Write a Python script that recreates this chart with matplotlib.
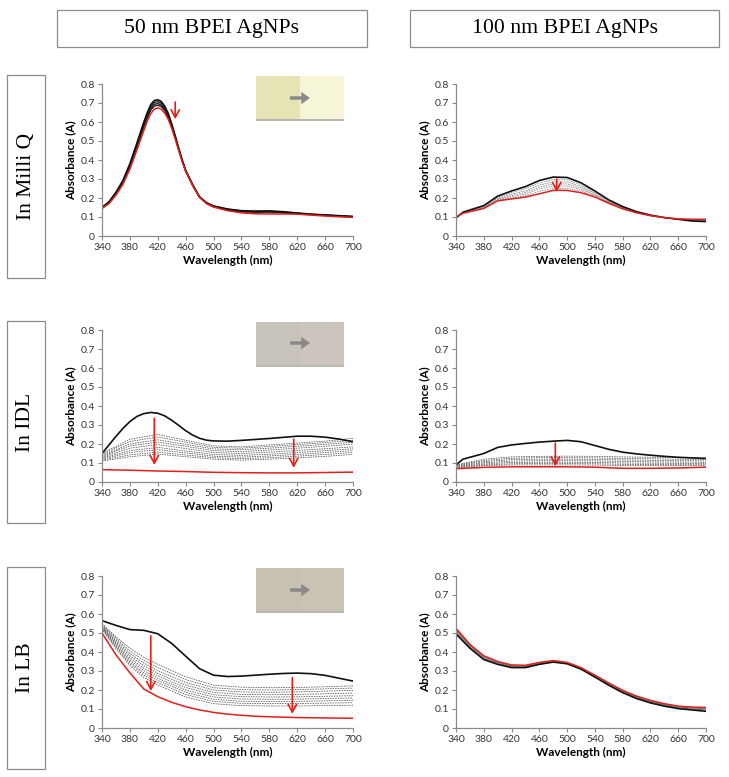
import matplotlib
matplotlib.use('Agg')
import matplotlib.pyplot as plt
from matplotlib.patches import Rectangle, FancyArrow
from matplotlib.ticker import FixedLocator, FixedFormatter

# ---------------- data ----------------
COL_TITLES = ["50 nm BPEI AgNPs", "100 nm BPEI AgNPs"]
ROW_TITLES = ["In Milli Q", "In IDL", "In LB"]
X_TICKS = [340, 380, 420, 460, 500, 540, 580, 620, 660, 700]
Y_TICKS = [0, 0.1, 0.2, 0.3, 0.4, 0.5, 0.6, 0.7, 0.8]
Y_TICK_LABELS = ["0", "0.1", "0.2", "0.3", "0.4", "0.5", "0.6", "0.7", "0.8"]
X_LABEL = "Wavelength (nm)"
Y_LABEL = "Absorbance (A)"

WL20 = [340, 360, 380, 400, 420, 440, 460, 480, 500, 520, 540, 560, 580, 600, 620, 640, 660, 680, 700]
WL40 = [340, 380, 420, 460, 500, 540, 580, 620, 660, 700]

# Panel A: 50 nm, Milli Q
WL_A = [340, 350, 360, 370, 380, 390, 400, 405, 410, 415, 420, 425, 430, 435, 440, 445, 450, 455, 460,
        470, 480, 490, 500, 520, 540, 560, 580, 600, 620, 640, 660, 680, 700]
A_TOP = [0.150, 0.180, 0.230, 0.292, 0.380, 0.488, 0.600, 0.650, 0.692, 0.713, 0.717, 0.708, 0.683, 0.645, 0.590, 0.527, 0.462, 0.400, 0.345,
         0.270, 0.205, 0.175, 0.158, 0.142, 0.133, 0.131, 0.132, 0.128, 0.121, 0.115, 0.111, 0.107, 0.103]
A_MID1 = [0.149, 0.178, 0.227, 0.288, 0.375, 0.481, 0.591, 0.640, 0.682, 0.703, 0.707, 0.698, 0.675, 0.638, 0.585, 0.523, 0.459, 0.398, 0.344,
          0.269, 0.205, 0.174, 0.157, 0.141, 0.131, 0.129, 0.130, 0.126, 0.120, 0.114, 0.110, 0.106, 0.102]
A_MID2 = [0.148, 0.176, 0.224, 0.284, 0.370, 0.474, 0.582, 0.630, 0.672, 0.693, 0.697, 0.689, 0.667, 0.631, 0.580, 0.519, 0.456, 0.396, 0.343,
          0.268, 0.204, 0.173, 0.156, 0.139, 0.129, 0.127, 0.128, 0.124, 0.119, 0.113, 0.109, 0.105, 0.101]
A_MID3 = [0.147, 0.174, 0.221, 0.280, 0.365, 0.468, 0.574, 0.621, 0.663, 0.684, 0.688, 0.681, 0.660, 0.625, 0.576, 0.516, 0.454, 0.395, 0.342,
          0.267, 0.204, 0.172, 0.155, 0.137, 0.127, 0.125, 0.126, 0.122, 0.118, 0.112, 0.108, 0.104, 0.100]
A_RED = [0.145, 0.170, 0.215, 0.272, 0.352, 0.452, 0.556, 0.605, 0.645, 0.668, 0.674, 0.667, 0.647, 0.614, 0.567, 0.510, 0.450, 0.392, 0.340,
         0.265, 0.203, 0.170, 0.152, 0.133, 0.122, 0.117, 0.116, 0.116, 0.115, 0.110, 0.105, 0.101, 0.098]

# Panel B: 100 nm, Milli Q
WL_B = [340, 350, 360, 380, 400, 420, 440, 460, 480, 500, 520, 540, 560, 580, 600, 620, 640, 660, 680, 700]
B_TOP = [0.095, 0.125, 0.137, 0.160, 0.210, 0.237, 0.260, 0.292, 0.310, 0.308, 0.280, 0.237, 0.190, 0.155, 0.128, 0.110, 0.097, 0.088, 0.079, 0.076]
B_MID1 = [0.096, 0.123, 0.135, 0.157, 0.204, 0.228, 0.249, 0.279, 0.297, 0.296, 0.270, 0.230, 0.186, 0.152, 0.126, 0.109, 0.096, 0.087, 0.080, 0.078]
B_MID2 = [0.097, 0.122, 0.133, 0.154, 0.200, 0.220, 0.238, 0.268, 0.285, 0.285, 0.261, 0.224, 0.182, 0.150, 0.125, 0.108, 0.096, 0.087, 0.081, 0.080]
B_MID3 = [0.098, 0.121, 0.132, 0.151, 0.196, 0.213, 0.229, 0.258, 0.274, 0.274, 0.253, 0.218, 0.179, 0.148, 0.124, 0.108, 0.096, 0.088, 0.083, 0.082]
B_MID4 = [0.099, 0.120, 0.130, 0.149, 0.192, 0.206, 0.220, 0.248, 0.263, 0.263, 0.245, 0.213, 0.176, 0.146, 0.123, 0.107, 0.096, 0.088, 0.085, 0.084]
B_MID5 = [0.100, 0.120, 0.129, 0.147, 0.188, 0.200, 0.212, 0.235, 0.251, 0.251, 0.236, 0.209, 0.174, 0.144, 0.122, 0.107, 0.097, 0.089, 0.086, 0.086]
B_RED = [0.100, 0.120, 0.128, 0.145, 0.185, 0.195, 0.205, 0.222, 0.240, 0.240, 0.228, 0.205, 0.172, 0.143, 0.122, 0.107, 0.097, 0.090, 0.088, 0.088]

# Panel C: 50 nm, IDL
WL_C = [340, 350, 360, 370, 380, 390, 400, 410, 420, 430, 440, 450, 460, 470, 480, 490, 500,
        520, 540, 560, 580, 600, 620, 640, 660, 680, 700]
C_TOP = [0.150, 0.195, 0.240, 0.282, 0.318, 0.345, 0.360, 0.366, 0.362, 0.348, 0.325, 0.298, 0.270, 0.247, 0.230, 0.220, 0.216,
         0.215, 0.219, 0.224, 0.229, 0.235, 0.241, 0.241, 0.236, 0.226, 0.212]
C_MID1 = [0.150, 0.225, 0.250, 0.220, 0.190, 0.185, 0.195, 0.205, 0.215, 0.230]
C_MID2 = [0.145, 0.213, 0.237, 0.210, 0.182, 0.178, 0.187, 0.197, 0.207, 0.220]
C_MID3 = [0.140, 0.200, 0.222, 0.198, 0.174, 0.170, 0.178, 0.188, 0.198, 0.210]
C_MID4 = [0.135, 0.190, 0.210, 0.188, 0.165, 0.160, 0.168, 0.178, 0.188, 0.200]
C_MID5 = [0.130, 0.178, 0.197, 0.176, 0.155, 0.150, 0.157, 0.166, 0.175, 0.185]
C_MID6 = [0.125, 0.165, 0.182, 0.163, 0.145, 0.140, 0.146, 0.155, 0.165, 0.175]
C_MID7 = [0.120, 0.155, 0.170, 0.153, 0.136, 0.131, 0.137, 0.145, 0.155, 0.165]
C_MID8 = [0.115, 0.143, 0.157, 0.142, 0.128, 0.123, 0.128, 0.136, 0.145, 0.155]
C_MID9 = [0.110, 0.133, 0.147, 0.133, 0.120, 0.115, 0.120, 0.127, 0.135, 0.145]
C_RED = [0.065, 0.062, 0.058, 0.055, 0.051, 0.049, 0.048, 0.048, 0.050, 0.052]

# Panel D: 100 nm, IDL
WL_D = [340, 350, 360, 380, 400, 420, 440, 460, 480, 500, 520, 540, 560, 580, 600, 620, 640, 660, 680, 700]
D_TOP = [0.090, 0.120, 0.130, 0.150, 0.182, 0.195, 0.203, 0.210, 0.215, 0.219, 0.212, 0.192, 0.172, 0.157, 0.148, 0.141, 0.135, 0.130, 0.127, 0.124]
D_MID1 = [0.090, 0.120, 0.132, 0.135, 0.136, 0.135, 0.132, 0.130, 0.128, 0.125]
D_MID2 = [0.088, 0.113, 0.125, 0.128, 0.128, 0.127, 0.124, 0.122, 0.120, 0.118]
D_MID3 = [0.085, 0.107, 0.118, 0.120, 0.120, 0.119, 0.116, 0.114, 0.112, 0.111]
D_MID4 = [0.082, 0.101, 0.110, 0.112, 0.112, 0.111, 0.108, 0.106, 0.105, 0.104]
D_MID5 = [0.079, 0.095, 0.103, 0.104, 0.104, 0.103, 0.100, 0.099, 0.098, 0.097]
D_MID6 = [0.076, 0.090, 0.096, 0.097, 0.097, 0.096, 0.093, 0.092, 0.091, 0.091]
D_MID7 = [0.073, 0.086, 0.090, 0.090, 0.090, 0.089, 0.087, 0.086, 0.086, 0.086]
D_RED = [0.070, 0.077, 0.080, 0.080, 0.080, 0.078, 0.072, 0.072, 0.074, 0.078]

# Panel E: 50 nm, LB
WL_E = [340, 360, 380, 400, 420, 460, 500, 540, 580, 620, 660, 700]
E_TOP = [0.565, 0.540, 0.518, 0.514, 0.496, 0.445, 0.378, 0.312, 0.278, 0.271, 0.273, 0.278, 0.283, 0.287, 0.289, 0.286, 0.277, 0.262, 0.247]
E_MID1 = [0.550, 0.480, 0.420, 0.372, 0.335, 0.270, 0.225, 0.215, 0.212, 0.213, 0.217, 0.222]
E_MID2 = [0.545, 0.472, 0.405, 0.356, 0.318, 0.255, 0.212, 0.202, 0.200, 0.202, 0.206, 0.210]
E_MID3 = [0.540, 0.463, 0.392, 0.342, 0.302, 0.240, 0.200, 0.190, 0.188, 0.190, 0.194, 0.198]
E_MID4 = [0.537, 0.455, 0.380, 0.328, 0.288, 0.226, 0.187, 0.177, 0.175, 0.177, 0.180, 0.184]
E_MID5 = [0.533, 0.448, 0.368, 0.315, 0.275, 0.213, 0.175, 0.165, 0.163, 0.164, 0.167, 0.170]
E_MID6 = [0.530, 0.440, 0.357, 0.302, 0.262, 0.200, 0.163, 0.153, 0.151, 0.152, 0.155, 0.158]
E_MID7 = [0.527, 0.433, 0.347, 0.290, 0.250, 0.188, 0.151, 0.141, 0.139, 0.140, 0.143, 0.146]
E_MID8 = [0.524, 0.426, 0.338, 0.278, 0.238, 0.176, 0.140, 0.130, 0.128, 0.129, 0.131, 0.133]
E_MID9 = [0.520, 0.418, 0.328, 0.266, 0.226, 0.163, 0.128, 0.118, 0.116, 0.116, 0.118, 0.120]
E_RED = [0.500, 0.385, 0.290, 0.205, 0.165, 0.135, 0.112, 0.095, 0.082, 0.073, 0.067, 0.062, 0.059, 0.057, 0.055, 0.054, 0.053, 0.052, 0.051]

# Panel F: 100 nm, LB
F_TOP = [0.495, 0.420, 0.360, 0.335, 0.318, 0.318, 0.335, 0.347, 0.338, 0.310, 0.268, 0.225, 0.186, 0.155, 0.132, 0.115, 0.102, 0.095, 0.088]
F_MID1 = [0.505, 0.427, 0.367, 0.340, 0.323, 0.322, 0.338, 0.349, 0.340, 0.313, 0.272, 0.230, 0.191, 0.160, 0.137, 0.120, 0.107, 0.100, 0.095]
F_MID2 = [0.515, 0.434, 0.374, 0.345, 0.327, 0.326, 0.341, 0.352, 0.342, 0.315, 0.275, 0.234, 0.195, 0.164, 0.141, 0.124, 0.111, 0.105, 0.101]
F_RED = [0.525, 0.440, 0.380, 0.350, 0.332, 0.330, 0.345, 0.355, 0.345, 0.318, 0.278, 0.237, 0.198, 0.168, 0.145, 0.128, 0.115, 0.110, 0.108]

# red arrows: (wavelength, y_start, y_end)
A_ARROWS = [(445, 0.705, 0.615)]
B_ARROWS = [(485, 0.300, 0.232)]
C_ARROWS = [(415, 0.335, 0.090), (615, 0.225, 0.075)]
D_ARROWS = [(483, 0.205, 0.083)]
E_ARROWS = [(410, 0.485, 0.195), (613, 0.265, 0.075)]
F_ARROWS = []

# ---------------- figure ----------------
W, H = 729, 777
fig = plt.figure(figsize=(W / 100, H / 100), dpi=100)
fig.patch.set_facecolor('white')

def fx(x):
    return x / W

def fy(y):
    return 1 - y / H

def add_rect(x0, y0, x1, y1, **kw):
    fig.patches.append(Rectangle((fx(x0), fy(y1)), fx(x1) - fx(x0), fy(y0) - fy(y1),
                                 transform=fig.transFigure, **kw))

SERIF = ['Liberation Serif', 'DejaVu Serif']
SANS = ['Lato', 'DejaVu Sans']
RED = '#e0201b'
GRAYAX = '#8a8a8a'

# column headers
for (x0, x1), t in zip([(57, 367), (410, 719)], COL_TITLES):
    add_rect(x0, 10, x1, 47, facecolor='white', edgecolor='#8c8c8c', lw=0.9)
    fig.text(fx((x0 + x1) / 2), fy(29), t, ha='center', va='center', family=SERIF, fontsize=15.7)

# row labels
for (y0, y1), t in zip([(75, 278), (321, 523), (567, 769)], ROW_TITLES):
    add_rect(7, y0, 45, y1, facecolor='white', edgecolor='#8c8c8c', lw=0.9)
    fig.text(fx(26), fy((y0 + y1) / 2), t, ha='center', va='center', rotation=90,
             family=SERIF, fontsize=15.5)

ROWS_Y = [(84, 236), (330, 482), (576, 728)]
COLS_X = [(102, 353), (456, 706)]

def make_ax(r, c):
    x0, x1 = COLS_X[c]
    y0, y1 = ROWS_Y[r]
    ax = fig.add_axes([fx(x0), fy(y1), fx(x1) - fx(x0), fy(y0) - fy(y1)])
    ax.set_facecolor('none')
    ax.set_xlim(340, 700)
    ax.set_ylim(0, 0.8)
    ax.xaxis.set_major_locator(FixedLocator(X_TICKS))
    ax.yaxis.set_major_locator(FixedLocator(Y_TICKS))
    ax.yaxis.set_major_formatter(FixedFormatter(Y_TICK_LABELS))
    for s in ['top', 'right']:
        ax.spines[s].set_visible(False)
    for s in ['left', 'bottom']:
        ax.spines[s].set_color(GRAYAX)
        ax.spines[s].set_linewidth(0.9)
    ax.tick_params(axis='both', direction='out', length=3, width=0.8, color=GRAYAX,
                   labelsize=7.5, labelcolor='#333333', pad=2)
    for lab in ax.get_xticklabels() + ax.get_yticklabels():
        lab.set_family(SANS)
    ax.set_xlabel(X_LABEL, family=SANS, fontweight='bold', fontsize=8.5, labelpad=2)
    ax.set_ylabel(Y_LABEL, family=SANS, fontweight='bold', fontsize=8.5, labelpad=3)
    return ax

def draw(ax, top, mids, red, arrows, mid_style):
    for wl, ys in mids:
        ax.plot(wl, ys, **mid_style)
    ax.plot(top[0], top[1], color='#111111', lw=1.2, solid_capstyle='round')
    ax.plot(red[0], red[1], color=RED, lw=1.1)
    for x, ys, ye in arrows:
        ax.annotate('', xy=(x, ye), xytext=(x, ys),
                    arrowprops=dict(arrowstyle='->,head_length=0.55,head_width=0.3',
                                    color=RED, lw=1.2, shrinkA=0, shrinkB=0))

DOT = dict(color='#505050', lw=0.55, ls=(0, (2.0, 1.3)))
DOTL = dict(color='#7a7a7a', lw=0.55, ls=(0, (2.0, 1.3)))
BLK = dict(color='#222222', lw=1.0)

axA = make_ax(0, 0)
draw(axA, (WL_A, A_TOP), [(WL_A, A_MID1), (WL_A, A_MID2), (WL_A, A_MID3)], (WL_A, A_RED), A_ARROWS, BLK)

axB = make_ax(0, 1)
draw(axB, (WL_B, B_TOP), [(WL_B, m) for m in [B_MID1, B_MID2, B_MID3, B_MID4, B_MID5]],
     (WL_B, B_RED), B_ARROWS, DOTL)

axC = make_ax(1, 0)
draw(axC, (WL_C, C_TOP), [(WL40, m) for m in [C_MID1, C_MID2, C_MID3, C_MID4, C_MID5, C_MID6, C_MID7, C_MID8, C_MID9]],
     (WL40, C_RED), C_ARROWS, DOT)

axD = make_ax(1, 1)
draw(axD, (WL_D, D_TOP), [(WL40, m) for m in [D_MID1, D_MID2, D_MID3, D_MID4, D_MID5, D_MID6, D_MID7]],
     (WL40, D_RED), D_ARROWS, DOT)

axE = make_ax(2, 0)
draw(axE, (WL20, E_TOP), [(WL_E, m) for m in [E_MID1, E_MID2, E_MID3, E_MID4, E_MID5, E_MID6, E_MID7, E_MID8, E_MID9]],
     (WL20, E_RED), E_ARROWS, DOT)

axF = make_ax(2, 1)
draw(axF, (WL20, F_TOP), [(WL20, F_MID1), (WL20, F_MID2)], (WL20, F_RED), F_ARROWS,
     dict(color='#777777', lw=0.8))

# colour swatch insets (photos of the suspensions)
def swatch(y0, left_col, right_col, split, arrow_y):
    add_rect(256, y0, 344, y0 + 44, facecolor=right_col, edgecolor='none')
    add_rect(256, y0, split, y0 + 44, facecolor=left_col, edgecolor='none')
    add_rect(256, y0 + 43, 344, y0 + 45, facecolor='#b8b8b0', edgecolor='none')
    fig.patches.append(FancyArrow(fx(290), fy(arrow_y), fx(310) - fx(290) - 0.012, 0,
                                  width=0.0045, head_width=0.016, head_length=0.012,
                                  transform=fig.transFigure, color='#8a8a8a', lw=0))

swatch(76, '#e6e4b4', '#f6f5d8', 300, 98)
swatch(322, '#c8c3ba', '#cbc5be', 300, 343)
swatch(568, '#c6c1b0', '#c9c3b4', 300, 590)

fig.savefig('out.png', dpi=100, facecolor='white')
